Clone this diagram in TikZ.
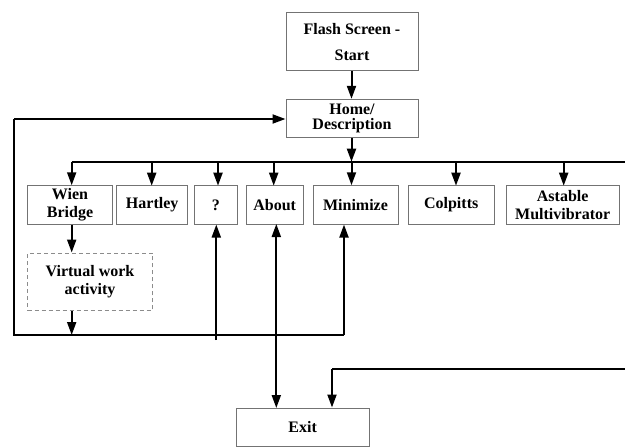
\documentclass[tikz,border=0pt]{standalone}
\usepackage{fontspec}
\setmainfont{Liberation Serif}
\usetikzlibrary{arrows.meta}
\begin{document}
\begin{tikzpicture}[x=1pt,y=-1pt,
  box/.style={draw=black!55,line width=1pt,fill=white,align=center,inner sep=0pt,
    font=\fontsize{16}{18.5}\selectfont\bfseries},
  dbox/.style={box,draw=black!45,dash pattern=on 4pt off 3pt},
  conn/.style={line width=2pt,black},
  tip/.tip={Triangle[length=13pt,width=9pt]},
  arr/.style={conn,-tip},
  darr/.style={conn,tip-tip}]
\useasboundingbox (0,0) rectangle (625,447);
% nodes
\node[box,minimum width=132pt,minimum height=58pt,font=\fontsize{16}{26}\selectfont\bfseries] (flash) at (352,41.7) {Flash Screen -\\Start};
\node[box,minimum width=132pt,minimum height=38pt,font=\fontsize{16}{15.5}\selectfont\bfseries] (home) at (352,118.3) {Home/\\Description};
\node[box,minimum width=84.6pt,minimum height=38.3pt] (wien) at (70,204.9) {Wien\\Bridge};
\node[box,minimum width=71pt,minimum height=38.3pt] (hartley) at (152.2,204.9) {Hartley};
\node[box,minimum width=43pt,minimum height=38.3pt] (q) at (215.8,204.9) {?};
\node[box,minimum width=56.7pt,minimum height=38.3pt] (about) at (274.7,204.9) {About};
\node[box,minimum width=85pt,minimum height=38.3pt] (minimize) at (355.5,204.9) {Minimize};
\node[box,minimum width=86.3pt,minimum height=38.3pt] (colpitts) at (451.2,204.9) {Colpitts};
\node[box,minimum width=113.3pt,minimum height=38.3pt] (astable) at (562.7,204.9) {Astable\\Multivibrator};
\node[dbox,minimum width=124.6pt,minimum height=57.7pt] (virtual) at (90,281.9) {Virtual work\\activity};
\node[box,minimum width=132.7pt,minimum height=38pt] (exit) at (302.7,427) {Exit};
% coordinates
\coordinate (hub) at (351.5,161.7);
\coordinate (busL) at (71.7,161.7);
\coordinate (busR) at (626,161.7);
\coordinate (bl) at (14,335);
\coordinate (br) at (344,335);
\coordinate (tl) at (14,119);
\coordinate (qlow) at (216.3,340);
\coordinate (rr) at (626,369);
\coordinate (rc) at (332,369);
% connectors
\draw[arr] (flash.south -| hub) -- (home.north -| hub);
\draw[arr] (home.south -| hub) -- (hub);
\draw[conn] (busL) -- (busR);
\draw[arr] (busL) -- (busL |- wien.north);
\draw[arr] (151.7,161.7) -- (151.7,185.7);
\draw[arr] (218,161.7) -- (218,185.7);
\draw[arr] (273.7,161.7) -- (273.7,185.7);
\draw[arr] (hub) -- (hub |- minimize.north);
\draw[arr] (456,161.7) -- (456,185.7);
\draw[arr] (563.7,161.7) -- (563.7,185.7);
\draw[arr] (wien.south -| busL) -- (busL |- virtual.north);
\draw[arr] (virtual.south -| busL) -- (busL |- bl);
\draw[conn] (br) -- (bl) -- (tl);
\draw[arr] (tl) -- (tl -| home.west);
\draw[arr] (br) -- (br |- minimize.south);
\draw[arr] (qlow) -- (qlow |- q.south);
\draw[darr] (276.3,224) -- (276.3,408);
\draw[conn] (rr) -- (rc);
\draw[arr] (rc) -- (rc |- exit.north);
\end{tikzpicture}
\end{document}
